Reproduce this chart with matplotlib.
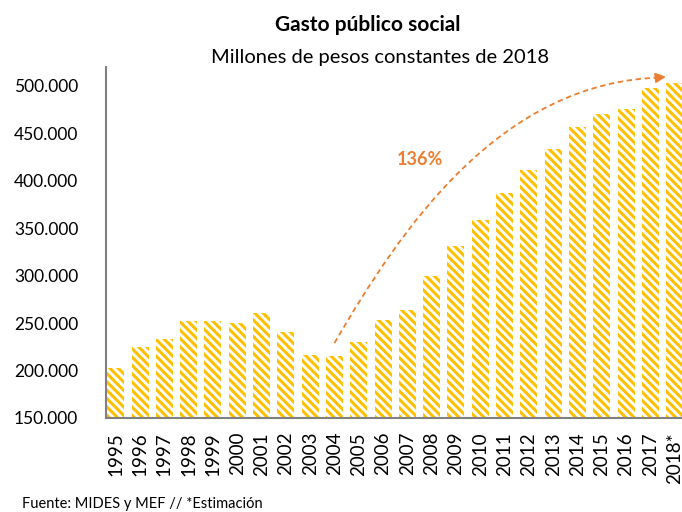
import matplotlib
matplotlib.use("Agg")
import matplotlib.pyplot as plt
from matplotlib.path import Path
from matplotlib.patches import PathPatch

# Datos
anios = ['1995', '1996', '1997', '1998', '1999', '2000', '2001', '2002',
         '2003', '2004', '2005', '2006', '2007', '2008', '2009', '2010',
         '2011', '2012', '2013', '2014', '2015', '2016', '2017', '2018*']
gasto = [203000, 225000, 233000, 252000, 252000, 250000, 261000, 241000,
         216000, 215000, 230000, 253000, 264000, 300000, 331000, 359000,
         387000, 411000, 434000, 457000, 470000, 476000, 498000, 503000]
yticks = [150000, 200000, 250000, 300000, 350000, 400000, 450000, 500000]

plt.rcParams['font.family'] = ['Lato', 'DejaVu Sans']
plt.rcParams['hatch.linewidth'] = 2.2

naranja = '#ED7D31'
amarillo = '#FFC000'

fig = plt.figure(figsize=(6.82, 5.12), dpi=100)
ax = fig.add_axes([106 / 682, 1 - 418 / 512, 1 - 106 / 682, 351 / 512])

x = list(range(len(anios)))
ax.bar(x, gasto, width=0.7, bottom=0, facecolor='white', edgecolor=amarillo,
       hatch='\\\\\\\\', linewidth=0)

ax.set_xlim(-0.4, 23.3)
ax.set_ylim(150000, 520000)
ax.set_yticks(yticks)
ax.set_yticklabels([f"{v:,}".replace(',', '.') for v in yticks], fontsize=12.5)
ax.set_xticks(x)
ax.set_xticklabels(anios, rotation=90, fontsize=13.5)
ax.tick_params(axis='y', length=0, pad=20)
ax.tick_params(axis='x', length=0, pad=10)

for lado in ['top', 'right']:
    ax.spines[lado].set_visible(False)
for lado in ['left', 'bottom']:
    ax.spines[lado].set_color('#808080')
    ax.spines[lado].set_linewidth(1.5)

# flecha de crecimiento
p0 = (9.0, 229000)
p1 = (11.7, 348000)
p2 = (15.8, 506000)
p3 = (22.55, 509000)
curva = Path([p0, p1, p2, p3], [Path.MOVETO, Path.CURVE4, Path.CURVE4, Path.CURVE4])
ax.add_patch(PathPatch(curva, facecolor='none', edgecolor=naranja, lw=1.3,
                       linestyle=(0, (3, 2)), clip_on=False))
ax.annotate('', xy=(22.75, 510000), xytext=(22.2, 508500),
            arrowprops=dict(arrowstyle='-|>,head_length=0.6,head_width=0.3',
                            color=naranja, lw=1.3), annotation_clip=False)
ax.text(12.5, 422000, '136%', color=naranja, fontsize=13, fontweight='bold',
        ha='center', va='center')

fig.text(368 / 682, 1 - 25 / 512, 'Gasto público social', fontsize=15,
         fontweight='bold', ha='center', va='center')
fig.text(380 / 682, 1 - 57 / 512, 'Millones de pesos constantes de 2018',
         fontsize=14.5, ha='center', va='center')
fig.text(22 / 682, 1 - 504 / 512, 'Fuente: MIDES y MEF // *Estimación',
         fontsize=10.5, ha='left', va='center')

fig.savefig('out.png', dpi=100)
